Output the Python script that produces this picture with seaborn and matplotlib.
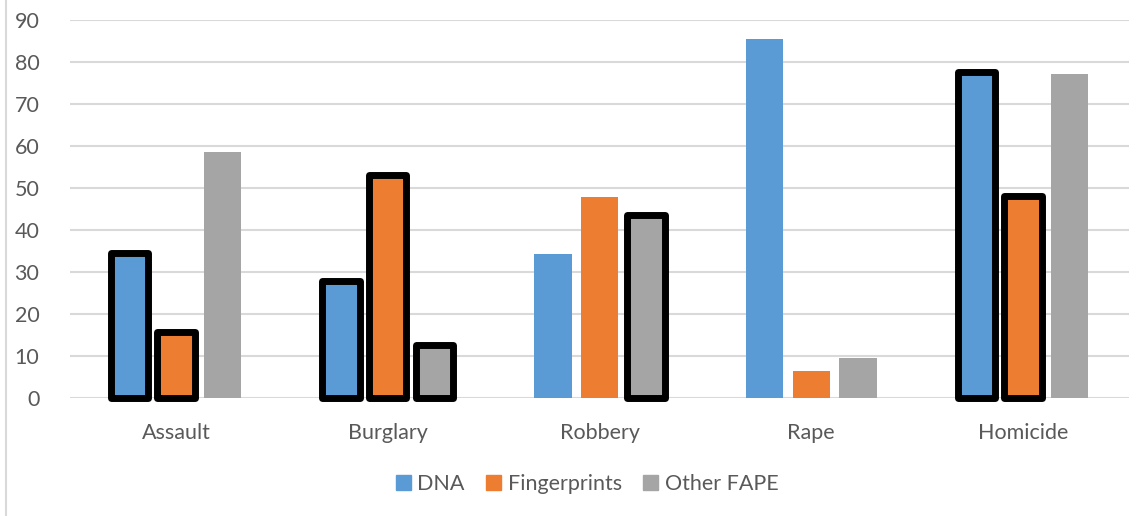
import pandas as pd
import matplotlib.pyplot as plt
import seaborn as sns
from matplotlib.lines import Line2D

crimes = ["Assault", "Burglary", "Robbery", "Rape", "Homicide"]
series = ["DNA", "Fingerprints", "Other FAPE"]
dna = [34.6, 27.9, 34.2, 85.5, 77.6]
fingerprints = [15.8, 53.0, 47.9, 6.4, 48.1]
other_fape = [58.6, 12.7, 43.6, 9.6, 77.1]
# bars drawn with a thick black outline in the original (series, crime)
highlighted = [
    ("DNA", "Assault"), ("Fingerprints", "Assault"),
    ("DNA", "Burglary"), ("Fingerprints", "Burglary"), ("Other FAPE", "Burglary"),
    ("Other FAPE", "Robbery"),
    ("DNA", "Homicide"), ("Fingerprints", "Homicide"),
]
colors = ["#5B9BD5", "#ED7D31", "#A5A5A5"]

df = pd.DataFrame({
    "crime": crimes * 3,
    "method": [s for s in series for _ in crimes],
    "value": dna + fingerprints + other_fape,
})

sns.set_theme(style="white")
plt.rcParams["font.family"] = ["Lato", "DejaVu Sans"]
text_color = "#595959"
fs = 15.5

fig = plt.figure(figsize=(11.44, 5.16), dpi=100)
ax = fig.add_axes([70 / 1144, 1 - 398 / 516, 1059 / 1144, 378 / 516])

sns.barplot(data=df, x="crime", y="value", hue="method", order=crimes,
            hue_order=series, palette=colors, width=0.66, gap=0.2,
            saturation=1, errorbar=None, ax=ax, legend=False)

for method, container in zip(series, ax.containers):
    for crime, bar in zip(crimes, container):
        if (method, crime) in highlighted:
            bar.set_edgecolor("black")
            bar.set_linewidth(5)
            bar.set_joinstyle("round")
            bar.set_clip_on(False)
        else:
            bar.set_linewidth(0)

ax.set_ylim(0, 90)
ax.set_xlim(-0.5, 4.5)
ax.set_yticks(range(0, 91, 10))
ax.yaxis.grid(True, color="#D9D9D9", linewidth=1.5)
ax.set_axisbelow(True)
for s in ax.spines.values():
    s.set_visible(False)
ax.set_xlabel("")
ax.set_ylabel("")
ax.tick_params(axis="y", length=0, pad=22, labelsize=fs, labelcolor=text_color)
ax.tick_params(axis="x", length=0, pad=18, labelsize=fs, labelcolor=text_color)

handles = [plt.Rectangle((0, 0), 1, 1, color=c) for c in colors]
fig.legend(handles, series, loc="center", bbox_to_anchor=(587 / 1144, 1 - 484 / 516),
           ncol=3, frameon=False, fontsize=fs, labelcolor=text_color,
           handlelength=0.7, handleheight=0.7, handletextpad=0.3, columnspacing=1.0)

# light chart-area frame line on the left edge
fig.add_artist(Line2D([5.5 / 1144, 5.5 / 1144], [0, 1], color="#D9D9D9", linewidth=1.5))

plt.savefig("out.png", dpi=100)
plt.close()
